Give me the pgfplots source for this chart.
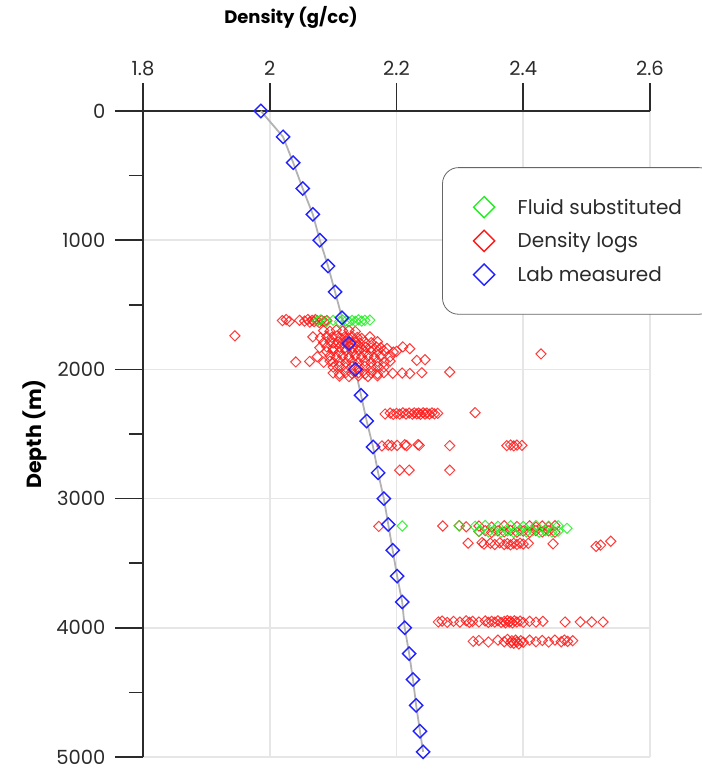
\documentclass[border=0pt]{standalone}
\usepackage{pgfplots}
\pgfplotsset{compat=1.18}
\usepackage{pgfplotstable}
\usepackage{fontspec}
\setmainfont{Poppins}
\usetikzlibrary{calc}
\definecolor{axisgray}{HTML}{2B2B2B}
\definecolor{gridgray}{HTML}{E6E6E6}
\definecolor{fsgreen}{HTML}{22EE22}
\definecolor{dlred}{HTML}{FF1A1A}
\definecolor{lmblue}{HTML}{2222FF}

\pgfplotstableread{
d depth
1.986 0
2.021 200
2.037 400
2.052 600
2.068 800
2.079 1000
2.092 1200
2.103 1400
2.114 1600
2.125 1800
2.135 2000
2.144 2200
2.153 2400
2.163 2600
2.171 2800
2.180 3000
2.187 3200
2.194 3400
2.201 3600
2.209 3800
2.213 4000
2.220 4200
2.226 4400
2.231 4600
2.237 4800
2.242 4960
}\labdata

\pgfplotstableread{
d depth
2.075 1625
2.080 1618
2.090 1628
2.100 1620
2.110 1630
2.115 1618
2.120 1626
2.125 1632
2.130 1620
2.135 1628
2.140 1616
2.145 1626
2.150 1620
2.158 1618
2.209 3212
2.299 3210
2.324 3214
2.340 3208
2.360 3214
2.380 3210
2.400 3216
2.420 3208
2.440 3214
2.455 3210
2.469 3230
2.330 3252
2.345 3258
2.355 3248
2.365 3260
2.375 3250
2.385 3262
2.395 3248
2.405 3258
2.415 3250
2.425 3260
2.435 3248
2.445 3258
2.455 3252
}\fluiddata

\pgfplotstableread{
d depth
2.020 1622
2.026 1614
2.031 1628
2.047 1620
2.055 1626
2.060 1614
2.063 1634
2.067 1620
2.070 1630
2.072 1614
2.075 1624
2.078 1638
2.082 1620
2.086 1630
2.090 1622
1.945 1740
2.085 1700
2.095 1705
2.105 1695
2.115 1702
2.125 1698
2.135 1706
2.068 1748
2.080 1755
2.090 1745
2.098 1752
2.106 1742
2.112 1758
2.118 1748
2.124 1755
2.130 1745
2.138 1752
2.145 1760
2.158 1748
2.085 1792
2.095 1785
2.100 1796
2.108 1788
2.115 1795
2.120 1783
2.128 1792
2.135 1786
2.142 1795
2.150 1788
2.160 1793
2.170 1786
2.079 1832
2.090 1826
2.100 1835
2.110 1828
2.118 1836
2.125 1824
2.130 1833
2.138 1826
2.145 1835
2.152 1828
2.160 1834
2.168 1826
2.175 1832
2.185 1838
2.210 1826
2.221 1840
2.090 1862
2.100 1855
2.110 1866
2.120 1858
2.130 1864
2.140 1855
2.150 1866
2.160 1858
2.170 1862
2.180 1855
2.195 1866
2.200 1860
2.428 1880
2.075 1902
2.095 1896
2.105 1905
2.115 1898
2.125 1906
2.135 1895
2.145 1903
2.155 1897
2.165 1905
2.175 1898
2.190 1902
2.041 1942
2.063 1938
2.085 1945
2.095 1936
2.100 1944
2.110 1938
2.120 1946
2.130 1937
2.140 1944
2.150 1936
2.160 1945
2.170 1938
2.180 1944
2.190 1936
2.232 1930
2.245 1925
2.100 1982
2.110 1976
2.120 1985
2.130 1978
2.140 1986
2.150 1977
2.160 1984
2.170 1978
2.180 1983
2.100 2028
2.110 2034
2.120 2025
2.130 2033
2.140 2026
2.150 2035
2.160 2027
2.170 2034
2.180 2026
2.194 2030
2.209 2028
2.221 2032
2.240 2026
2.284 2020
2.110 2052
2.125 2056
2.140 2050
2.155 2055
2.170 2050
2.182 2345
2.190 2338
2.195 2348
2.200 2340
2.205 2346
2.210 2336
2.215 2345
2.220 2338
2.225 2347
2.228 2336
2.232 2344
2.235 2338
2.238 2348
2.242 2336
2.245 2345
2.248 2338
2.252 2346
2.256 2337
2.260 2344
2.265 2340
2.324 2335
2.177 2592
2.187 2585
2.192 2590
2.201 2588
2.213 2583
2.216 2590
2.234 2582
2.236 2588
2.284 2590
2.374 2590
2.380 2585
2.385 2592
2.390 2586
2.398 2588
2.205 2780
2.220 2780
2.284 2780
2.172 3215
2.273 3212
2.299 3210
2.310 3218
2.330 3212
2.350 3220
2.370 3210
2.390 3216
2.410 3210
2.420 3220
2.430 3212
2.440 3218
2.450 3210
2.330 3255
2.340 3248
2.350 3262
2.360 3250
2.370 3258
2.380 3246
2.390 3260
2.400 3252
2.410 3262
2.420 3248
2.430 3258
2.440 3250
2.450 3260
2.313 3345
2.335 3340
2.338 3352
2.348 3345
2.355 3355
2.363 3342
2.370 3356
2.375 3348
2.380 3358
2.385 3346
2.390 3355
2.395 3345
2.400 3352
2.408 3346
2.447 3350
2.515 3370
2.522 3360
2.538 3330
2.266 3955
2.272 3948
2.280 3958
2.290 3950
2.300 3956
2.310 3946
2.315 3958
2.320 3950
2.330 3955
2.340 3947
2.345 3958
2.350 3950
2.355 3956
2.360 3946
2.365 3958
2.370 3950
2.372 3962
2.375 3944
2.378 3956
2.380 3950
2.383 3962
2.386 3946
2.390 3955
2.395 3948
2.400 3958
2.410 3950
2.420 3956
2.431 3950
2.466 3955
2.490 3955
2.508 3955
2.526 3955
2.321 4105
2.330 4098
2.345 4110
2.360 4095
2.370 4108
2.375 4090
2.380 4115
2.382 4100
2.385 4120
2.388 4095
2.390 4110
2.393 4125
2.396 4100
2.400 4112
2.410 4095
2.420 4108
2.430 4098
2.440 4110
2.450 4095
2.460 4108
2.465 4095
2.470 4105
2.478 4100
}\logdata

\begin{document}
\begin{tikzpicture}
\begin{axis}[
  scale only axis, width=507pt, height=646pt,
  xmin=1.8, xmax=2.6, ymin=0, ymax=5000,
  y dir=reverse,
  axis x line*=top, axis y line*=left,
  xtick={1.8,2.0,2.2,2.4,2.6},
  xticklabels={1.8,2,2.2,2.4,2.6},
  ytick={0,1000,2000,3000,4000,5000},
  yticklabels={0,1000,2000,3000,4000,5000},
  minor ytick={500,1500,2500,3500,4500},
  tick align=outside,
  major tick length=28pt, minor tick length=14pt,
  tick style={axisgray, line width=1.6pt},
  grid=major, major grid style={gridgray, line width=1.6pt},
  axis line style={axisgray, line width=1.8pt, -},
  ticklabel style={font=\fontsize{19.5}{22}\selectfont, text=axisgray},
  xticklabel style={yshift=4pt},
  yticklabel style={xshift=-6pt},
  legend style={at={(axis description cs:0.59,0.913)}, anchor=north west,
    draw=black!60, line width=0.8pt, rounded corners=16pt, fill=white,
    font=\fontsize{20}{24}\selectfont, text=axisgray,
    inner xsep=31pt, inner ysep=29pt, row sep=12.5pt, column sep=21pt},
  legend cell align=left,
  clip=false,
]
\addlegendimage{only marks, mark=square, mark size=7.5pt, mark options={rotate=45, line width=1.4pt}, color=fsgreen}
\addlegendentry{Fluid substituted}
\addlegendimage{only marks, mark=square, mark size=7.5pt, mark options={rotate=45, line width=1.4pt}, color=dlred}
\addlegendentry{Density logs}
\addlegendimage{only marks, mark=square, mark size=7.5pt, mark options={rotate=45, line width=1.4pt}, color=lmblue}
\addlegendentry{Lab measured}

\addplot[forget plot, color=black!30, line width=1.8pt] table[x=d, y=depth] {\labdata};
\addplot[forget plot, only marks, color=dlred, mark=square, mark size=3.6pt, mark options={rotate=45, line width=1.0pt, opacity=0.85}] table[x=d, y=depth] {\logdata};
\addplot[forget plot, only marks, color=fsgreen, mark=square, mark size=3.6pt, mark options={rotate=45, line width=1.0pt, opacity=0.85}] table[x=d, y=depth] {\fluiddata};
\addplot[forget plot, only marks, color=lmblue, mark=square, mark size=4.7pt, mark options={rotate=45, line width=1.4pt}] table[x=d, y=depth] {\labdata};
\end{axis}
\node[font=\fontsize{18}{21}\selectfont\bfseries, text=black] at ($(current axis.north west)+(148pt,94pt)$) {Density (g/cc)};
\node[font=\fontsize{20.5}{24}\selectfont\bfseries, text=black, rotate=90] at ($(current axis.north west)+(-108pt,-323pt)$) {Depth (m)};
\pgfresetboundingbox
\useasboundingbox ($(current axis.south west)+(-143pt,-17pt)$) rectangle ($(current axis.north east)+(51pt,111pt)$);
\end{tikzpicture}
\end{document}
